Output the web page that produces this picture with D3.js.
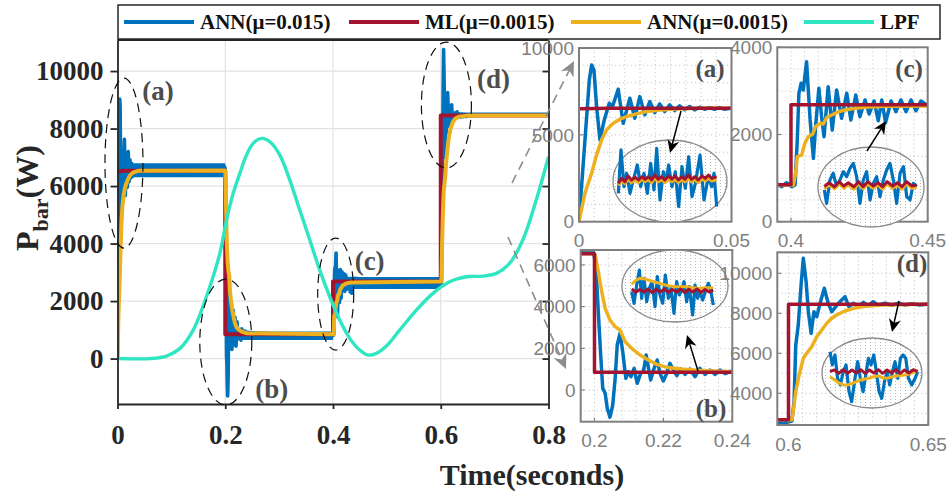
<!DOCTYPE html>
<html><head><meta charset="utf-8">
<script src="https://cdn.jsdelivr.net/npm/d3@7"></script>
<style>
html,body{margin:0;padding:0;background:#fff;}
svg{display:block;}
</style></head>
<body><svg id="chart" width="947" height="493"></svg>
<script>
// ---------- axis limits and ticks ----------
const timeLimits = [0, 0.8];
const powerLimits = [-1580, 11080];
const timeTicks = [0, 0.2, 0.4, 0.6, 0.8];
const powerTicks = [0, 2000, 4000, 6000, 8000, 10000];

const seriesNames = ["ANN(μ=0.015)", "ML(μ=0.0015)", "ANN(μ=0.0015)", "LPF"];
const seriesColors = ["#0072BD", "#A2142F", "#EDB120", "#2EE6C1"];

// ---------- ANN (μ=0.015): [time s, power W] ----------
const annFast = [
  [0,0],[0.00196,4713],[0.00338,8161],[0.00414,9023],[0.0049,8735],[0.00577,6628],[0.00686,4713],
  [0.00828,5862],[0.00991,6819],[0.0110,6628],[0.01285,7624],[0.01449,5670],[0.01667,7107],[0.0183,5957],
  [0.01993,7203],[0.02157,6149],[0.0232,6915],[0.02484,6283],[0.02647,6781],[0.0281,6340],[0.02974,6724],
  [0.03137,6398],[0.033,6667],[0.03464,6437],[0.03627,6628],[0.0379,6437],[0.03954,6590],[0.04118,6475],
  [0.04281,6570],[0.04444,6475],[0.04608,6570],[0.04771,6475],[0.04957,6533],[0.1,6530],
  [0.196,6640],[0.1975,6560],[0.1988,6670],[0.1997,6603],[0.2004,5995],[0.2011,3757],[0.2018,1679],
  [0.2024,80],[0.2031,-160],[0.2037,-879],[0.2045,-1300],[0.2053,-719],[0.206,560],[0.2066,2158],
  [0.2074,2718],[0.2082,1839],[0.2091,560],[0.2098,879],[0.2106,640],[0.2115,1039],[0.2124,320],
  [0.2134,799],[0.2142,879],[0.215,1679],[0.2156,1119],[0.2163,480],[0.2173,1039],[0.2182,1439],
  [0.219,799],[0.22,432],[0.221,799],[0.2219,1279],[0.2229,959],[0.2239,687],[0.225,1007],[0.2263,751],
  [0.2277,1007],[0.2292,640],[0.2306,1039],[0.2321,751],[0.2335,959],[0.235,751],[0.2364,959],
  [0.2379,783],[0.2398,911],[0.3,840],[0.395,865],
  [0.3966,803],[0.3984,895],[0.4003,803],[0.4015,842],[0.4023,1874],[0.4029,2945],[0.4037,3175],
  [0.4045,3021],[0.4057,3670],[0.407,2333],[0.4082,1454],[0.4091,2257],[0.4102,3060],[0.4112,2409],
  [0.4121,1950],[0.4136,3097],[0.4151,2104],[0.4167,3021],[0.4185,2372],[0.4204,2945],[0.4219,2333],
  [0.4237,2906],[0.4252,2409],[0.4271,2792],[0.4286,2471],[0.4304,2769],[0.4319,2317],[0.4332,2792],
  [0.4346,2271],[0.4366,2769],[0.4384,2523],[0.4402,2792],[0.4421,2523],[0.4439,2792],[0.4457,2546],
  [0.4475,2769],[0.45,2661],[0.52,2650],[0.596,2580],
  [0.5981,2500],[0.6012,2615],[0.602,3580],[0.6026,6415],[0.6035,7415],[0.6045,9415],[0.6053,10750],
  [0.6063,9580],[0.6071,8080],[0.6081,7000],[0.6091,8080],[0.6101,7830],[0.6113,8500],[0.6128,9250],
  [0.6142,8500],[0.6155,8080],[0.6169,8330],[0.6184,8580],[0.6202,8830],[0.6216,8330],[0.6232,8500],
  [0.625,8330],[0.6268,8550],[0.6285,8370],[0.6303,8580],[0.6321,8400],[0.6345,8500],[0.6369,8400],
  [0.6393,8500],[0.6417,8415],[0.6441,8480],[0.647,8415],[0.65,8465],[0.8,8470]
];
// switching ripple envelope of ANN (μ=0.015) in steady state: [time, low, high]
const annFastRipple = [
  [[0.025,6310,6790],[0.2,6310,6790]],
  [[0.222,650,940],[0.4,650,940]],
  [[0.43,2420,2840],[0.6,2420,2840]],
  [[0.63,8400,8560],[0.8,8400,8560]]
];

// ---------- ML (μ=0.0015) ----------
const ml = [
  [0,6500],[0.01,6530],[0.2,6530],[0.2,850],[0.4,850],[0.4,2680],[0.6,2680],[0.6,8450],[0.8,8450]
];

// ---------- ANN (μ=0.0015) ----------
const annSlow = [
  [0,0],[0.00196,1648],[0.00414,2797],[0.00577,3850],[0.00741,4713],[0.00904,5287],[0.01122,5670],
  [0.0134,5900],[0.01558,6054],[0.01885,6207],[0.02211,6340],[0.02647,6437],[0.03192,6494],[0.03954,6533],
  [0.1997,6545],[0.2002,6475],[0.2011,5675],[0.2021,4716],[0.2031,3917],[0.2045,3357],[0.206,3038],
  [0.2074,2878],[0.2089,2318],[0.2108,1998],[0.2132,1679],[0.2156,1439],[0.2181,1231],[0.221,1087],
  [0.2249,1007],[0.2297,943],[0.2345,911],[0.24,880],
  [0.4009,842],[0.4017,1110],[0.4023,1491],[0.4039,1530],[0.4051,1798],[0.4063,1950],[0.4079,2005],
  [0.409,2179],[0.4106,2257],[0.4118,2240],[0.4131,2395],[0.4149,2448],[0.4173,2523],[0.4198,2562],
  [0.4234,2601],[0.4283,2631],[0.4344,2650],
  [0.6012,2680],[0.6017,3080],[0.6026,4080],[0.6038,4915],[0.6053,5750],[0.6065,6000],[0.6083,6330],
  [0.6101,6830],[0.6119,7165],[0.6137,7500],[0.6155,7750],[0.6176,7950],[0.6202,8115],[0.6232,8250],
  [0.6274,8350],[0.6333,8415],[0.65,8450],[0.8,8450]
];

// ---------- LPF ----------
const lpf = [
  [0,0],[0.06,0],[0.091,87],[0.116,355],[0.1405,991],[0.165,2150],[0.19,3659],[0.2024,4817],
  [0.2147,5745],[0.2271,6441],[0.2395,7078],[0.2518,7484],[0.2673,7658],[0.2827,7541],[0.3013,7078],
  [0.3198,6208],[0.3383,5165],[0.3569,4122],[0.3754,3078],[0.394,2150],[0.4125,1339],[0.431,702],
  [0.4496,296],[0.465,122],[0.4805,181],[0.499,435],[0.5237,991],[0.5547,1687],[0.5855,2268],
  [0.6164,2671],[0.6474,2845],[0.6782,2869],[0.703,2963],[0.7277,3311],[0.7523,4122],[0.7772,5513],
  [0.8,7019]
];

// ---------- magnified steady-state windows ----------
const zoomA_annFast = [[0.0300,6356],[0.03049,6862],[0.03104,6433],[0.03153,6590],[0.03214,6356],[0.03275,6512],
  [0.03348,6687],[0.03409,6433],[0.0347,6590],[0.03531,6356],[0.03592,6706],[0.03653,6395],[0.03702,6881],
  [0.03763,6278],[0.03824,6608],[0.03873,6492],[0.03921,6687],[0.03982,6433],[0.04043,6608],[0.04104,6200],
  [0.04165,6667],[0.04226,6415],[0.04287,6783],[0.04348,6317],[0.0441,6473],[0.04495,6803],[0.04568,6278],
  [0.04647,6550],[0.04708,6433],[0.04751,6590],[0.048,6200]];
const zoomA_t = [0.0300,0.0306,0.0312,0.0318,0.0324,0.0331,0.0337,0.0343,0.0349,0.0355,0.0361,0.0367,0.0373,
  0.0379,0.0385,0.0392,0.0398,0.0404,0.0410,0.0416,0.0422,0.0428,0.0434,0.0440,0.0446,0.0453,0.0459,0.0465,0.0471,0.0480];
const zoomA_ml = [6473,6531,6492,6558,6512,6543,6512,6550,6520,6550,6512,6570,6520,6550,6512,6558,6520,6558,
  6512,6550,6520,6570,6520,6550,6512,6558,6531,6570,6531,6550];
const zoomA_annSlow = [6450,6500,6470,6520,6480,6510,6480,6520,6490,6515,6480,6530,6490,6515,6480,6520,6490,
  6520,6480,6515,6490,6530,6490,6515,6480,6520,6500,6530,6500,6515];

const zoomB_annFast = [[0.2250,910],[0.22529,766],[0.22561,993],[0.22594,1179],[0.22622,828],[0.22651,1076],
  [0.22684,786],[0.22716,952],[0.22749,1034],[0.22786,724],[0.22814,1096],[0.22847,869],[0.2288,766],
  [0.22912,1117],[0.22949,828],[0.22982,952],[0.23018,642],[0.23051,1034],[0.23084,869],[0.23112,931],
  [0.23141,1034],[0.23173,786],[0.23206,972],[0.23247,621],[0.23276,993],[0.23308,828],[0.23337,910],
  [0.2337,807],[0.23402,910],[0.23439,1014],[0.23469,931],[0.235,745]];
const zoomB_t = [0.2250,0.2255,0.2260,0.2265,0.2270,0.2275,0.2280,0.2285,0.2290,0.2295,0.2300,0.2305,0.2310,
  0.2315,0.2320,0.2325,0.2330,0.2335,0.2340,0.2345,0.2350];
const zoomB_ml = [943,902,938,905,943,900,940,905,943,902,938,905,943,900,940,905,943,902,938,905,930];
const zoomB_annSlow = [1002,1050,1076,1070,1055,1040,1026,1010,995,984,978,972,975,972,968,960,955,952,958,960,955];

const zoomC_annFast = [[0.4360,2593],[0.43625,2466],[0.43661,2688],[0.43697,2752],[0.43734,2624],[0.4377,2688],
  [0.43806,2767],[0.43842,2720],[0.43878,2799],[0.43914,2847],[0.4395,2720],[0.43986,2466],[0.44022,2688],
  [0.44058,2767],[0.44095,2498],[0.44131,2657],[0.44167,2720],[0.44203,2529],[0.44239,2688],[0.44275,2783],
  [0.44311,2847],[0.44347,2688],[0.44383,2466],[0.4442,2752],[0.44456,2815],[0.44492,2529],[0.44528,2498],
  [0.44564,2657],[0.446,2624]];
const zoomC_t = [0.4360,0.4365,0.4371,0.4376,0.4381,0.4386,0.4392,0.4397,0.4402,0.4407,0.4413,0.4418,0.4423,
  0.4428,0.4434,0.4439,0.4444,0.4449,0.4455,0.4460];
const zoomC_ml = [2624,2662,2624,2672,2631,2662,2624,2672,2624,2672,2631,2662,2624,2672,2631,2662,2624,2672,2631,2640];
const zoomC_annSlow = [2600,2640,2605,2650,2610,2640,2600,2650,2605,2648,2610,2640,2600,2650,2608,2640,2600,2650,2610,2618];

const zoomD_annFast = [[0.636,8700],[0.63627,8594],[0.63657,8674],[0.63687,8487],[0.63718,8434],[0.63752,8540],
  [0.63783,8594],[0.63817,8380],[0.63847,8300],[0.63885,8487],[0.63916,8620],[0.63946,8487],[0.63977,8380],
  [0.64008,8514],[0.64038,8647],[0.64068,8594],[0.64099,8674],[0.64129,8540],[0.6416,8380],[0.6419,8327],
  [0.64221,8460],[0.64251,8540],[0.64281,8434],[0.64312,8540],[0.64342,8620],[0.64373,8487],[0.64403,8647],
  [0.64433,8674],[0.64464,8647],[0.64494,8487],[0.64532,8434],[0.6457,8487],[0.646,8540]];
const zoomD_t = [0.6360,0.6365,0.6370,0.6375,0.6380,0.6385,0.6390,0.6395,0.6400,0.6405,0.6410,0.6415,0.6420,
  0.6425,0.6430,0.6435,0.6440,0.6445,0.6450,0.6455,0.6460];
const zoomD_ml = [8540,8554,8527,8556,8527,8554,8530,8556,8527,8554,8530,8556,8527,8554,8530,8556,8527,8554,8530,8556,8540];
const zoomD_annSlow = [8500,8475,8450,8434,8434,8445,8460,8474,8482,8490,8500,8506,8492,8487,8498,8506,8510,8514,8522,8535,8546];

// ---------- drawing ----------
const SERIF = "'Liberation Serif','Times New Roman',serif";
const SANS = "'Liberation Sans',Arial,sans-serif";
const AXIS = "#262626";
const svg = d3.select("#chart");
const defs = svg.append("defs");

const box = {left: 117.5, right: 548.5, top: 40, bottom: 404};
const x = d3.scaleLinear(timeLimits, [box.left, box.right]);
const y = d3.scaleLinear(powerLimits, [box.bottom, box.top]);

defs.append("clipPath").attr("id", "mainClip").append("rect")
  .attr("x", box.left).attr("y", box.top)
  .attr("width", box.right - box.left).attr("height", box.bottom - box.top);

// dotted background of the magnified windows
const dots = defs.append("pattern").attr("id", "zoomDots")
  .attr("width", 5).attr("height", 3).attr("patternUnits", "userSpaceOnUse");
dots.append("rect").attr("width", 5).attr("height", 3).attr("fill", "#fff");
dots.append("rect").attr("width", 1).attr("height", 1).attr("fill", "#b9b9b9");

// grid
const grid = svg.append("g");
grid.selectAll(".gx").data(timeTicks.slice(1, -1)).join("line")
  .attr("x1", d => x(d)).attr("x2", d => x(d)).attr("y1", box.top).attr("y2", box.bottom)
  .attr("stroke", "#e3e3e3").attr("stroke-width", 1.2);
grid.selectAll(".gy").data(powerTicks).join("line")
  .attr("x1", box.left).attr("x2", box.right).attr("y1", d => y(d)).attr("y2", d => y(d))
  .attr("stroke", "#e3e3e3").attr("stroke-width", 1.2);

// series
const plot = svg.append("g").attr("clip-path", "url(#mainClip)");
const line = d3.line().x(d => x(d[0])).y(d => y(d[1]));
const ripple = d3.area().x(d => x(d[0])).y0(d => y(d[1])).y1(d => y(d[2]));
annFastRipple.forEach(seg => plot.append("path").attr("d", ripple(seg)).attr("fill", seriesColors[0]));
plot.append("path").attr("d", line(annFast)).attr("fill", "none").attr("stroke", seriesColors[0])
  .attr("stroke-width", 3.6).attr("stroke-linejoin", "round");
plot.append("path").attr("d", line(ml)).attr("fill", "none").attr("stroke", seriesColors[1])
  .attr("stroke-width", 4).attr("stroke-linejoin", "round");
plot.append("path").attr("d", line(annSlow)).attr("fill", "none").attr("stroke", seriesColors[2])
  .attr("stroke-width", 4).attr("stroke-linejoin", "round");
plot.append("path").attr("d", d3.line().x(d => x(d[0])).y(d => y(d[1])).curve(d3.curveCatmullRom.alpha(0.5))(lpf))
  .attr("fill", "none").attr("stroke", seriesColors[3]).attr("stroke-width", 3.4);

// axes
const axL = svg.append("g").attr("transform", `translate(${box.left},0)`)
  .call(d3.axisLeft(y).tickValues(powerTicks).tickSize(7).tickSizeOuter(0).tickPadding(7).tickFormat(d3.format("d")));
const axB = svg.append("g").attr("transform", `translate(0,${box.bottom})`)
  .call(d3.axisBottom(x).tickValues(timeTicks).tickSize(5).tickSizeOuter(0).tickPadding(16).tickFormat(d => String(d)));
const axR = svg.append("g").attr("transform", `translate(${box.right},0)`)
  .call(d3.axisLeft(y).tickValues(powerTicks).tickSize(6).tickSizeOuter(0).tickFormat(""));
[axL, axB, axR].forEach(a => {
  a.selectAll("path,line").attr("stroke", AXIS).attr("stroke-width", 1.8);
  a.selectAll("text").attr("fill", AXIS).style("font-family", SERIF).style("font-weight", "bold").style("font-size", "27px");
});
svg.append("line").attr("x1", box.left).attr("x2", box.right).attr("y1", box.top).attr("y2", box.top)
  .attr("stroke", AXIS).attr("stroke-width", 1.8);

// axis titles
const yl = svg.append("text").attr("transform", "translate(38,198) rotate(-90)")
  .attr("text-anchor", "middle").attr("fill", AXIS)
  .style("font-family", SERIF).style("font-weight", "bold").style("font-size", "32px");
yl.append("tspan").text("P");
yl.append("tspan").attr("dy", 10).style("font-size", "22px").text("bar");
yl.append("tspan").attr("dy", -10).text("(W)");
svg.append("text").attr("x", 532).attr("y", 485).attr("text-anchor", "middle").attr("fill", AXIS)
  .style("font-family", SERIF).style("font-weight", "bold").style("font-size", "30px").text("Time(seconds)");

// highlighted transients
const highlights = [
  {tag: "(a)", c: [0.012, 6800], r: [19, 85], label: [0.075, 9320]},
  {tag: "(b)", c: [0.201, 574], r: [26, 63], label: [0.2865, -1026]},
  {tag: "(c)", c: [0.405, 2243], r: [18, 56], label: [0.468, 3426]},
  {tag: "(d)", c: [0.6105, 8817], r: [25, 63], label: [0.698, 9756]}
];
highlights.forEach(h => {
  svg.append("ellipse").attr("cx", x(h.c[0])).attr("cy", y(h.c[1])).attr("rx", h.r[0]).attr("ry", h.r[1])
    .attr("fill", "none").attr("stroke", "#111").attr("stroke-width", 1.2).attr("stroke-dasharray", "9,6");
  svg.append("text").attr("x", x(h.label[0])).attr("y", y(h.label[1])).attr("dy", "0.35em")
    .attr("text-anchor", "middle").attr("fill", "#4d4d4d")
    .style("font-family", SERIF).style("font-weight", "bold").style("font-size", "27px").text(h.tag);
});

function arrowHead(g, x1, y1, x2, y2, len, half, color) {
  const a = Math.atan2(y2 - y1, x2 - x1), c = Math.cos(a), s = Math.sin(a);
  const bx = x2 - len * c, by = y2 - len * s;
  const nx = bx + len * 0.3 * c, ny = by + len * 0.3 * s;
  g.append("path").attr("d", `M${x2},${y2}L${bx - s * half},${by + c * half}L${nx},${ny}L${bx + s * half},${by - c * half}Z`)
    .attr("fill", color);
}

// ---------- inset panels ----------
const insets = [
  {tag: "(a)", box: [579, 48, 731.5, 221.7], tDom: [0, 0.05], pDom: [0, 10000], tTicks: [0, 0.05],
   pTicks: [0, 5000, 10000], tMinor: 0.005, pMinor: 1000, tagPos: [710, 68],
   zoom: {c: [670, 181], r: [57, 41], xr: [618.3, 716.7], yr: [206.7, 146.7], tDom: [0.030, 0.048], pDom: [6200, 6900],
          arrow: [681, 111, 670, 153], fast: zoomA_annFast, t: zoomA_t, ml: zoomA_ml, slow: zoomA_annSlow}},
  {tag: "(b)", box: [580.7, 250, 732.3, 421.7], tDom: [0.196, 0.24], pDom: [-1520, 6715], tTicks: [0.2, 0.22, 0.24],
   pTicks: [0, 2000, 4000, 6000], tMinor: 0.004, pMinor: 1000, tagPos: [711, 408],
   zoom: {c: [675, 286], r: [53, 36], xr: [631.7, 713.3], yr: [316.7, 268.3], tDom: [0.225, 0.235], pDom: [600, 1200],
          arrow: [698, 371, 687, 335], fast: zoomB_annFast, t: zoomB_t, ml: zoomB_ml, slow: zoomB_annSlow}},
  {tag: "(c)", box: [777.3, 47.3, 927.7, 221.7], tDom: [0.395, 0.45], pDom: [0, 4000], tTicks: [0.4, 0.45],
   pTicks: [0, 2000, 4000], tMinor: 0.005, pMinor: 500, tagPos: [909, 68],
   zoom: {c: [871, 187], r: [53, 40], xr: [824.3, 916.7], yr: [205, 163], tDom: [0.436, 0.446], pDom: [2450, 2850],
          arrow: [867, 151, 886, 121], fast: zoomC_annFast, t: zoomC_t, ml: zoomC_ml, slow: zoomC_annSlow}},
  {tag: "(d)", box: [777.3, 252.3, 928.3, 425], tDom: [0.596, 0.65], pDom: [2415, 11050], tTicks: [0.6, 0.65],
   pTicks: [4000, 6000, 8000, 10000], tMinor: 0.005, pMinor: 1000, tagPos: [912, 263],
   zoom: {c: [872, 373], r: [50, 35], xr: [830, 917.7], yr: [401.7, 351.7], tDom: [0.636, 0.646], pDom: [8300, 8700],
          arrow: [899, 301, 892, 332], fast: zoomD_annFast, t: zoomD_t, ml: zoomD_ml, slow: zoomD_annSlow}}
];

insets.forEach((cfg, i) => {
  const [x0, y0, x1, y1] = cfg.box;
  const ix = d3.scaleLinear(cfg.tDom, [x0, x1]);
  const iy = d3.scaleLinear(cfg.pDom, [y1, y0]);
  const g = svg.append("g");
  const id = "insetClip" + i;
  defs.append("clipPath").attr("id", id).append("rect").attr("x", x0).attr("y", y0).attr("width", x1 - x0).attr("height", y1 - y0);
  g.append("rect").attr("x", x0).attr("y", y0).attr("width", x1 - x0).attr("height", y1 - y0).attr("fill", "#fff");

  const tMinor = d3.range(Math.ceil(cfg.tDom[0] / cfg.tMinor - 1e-6) * cfg.tMinor, cfg.tDom[1] - 1e-6, cfg.tMinor);
  const pMinor = d3.range(Math.ceil(cfg.pDom[0] / cfg.pMinor) * cfg.pMinor, cfg.pDom[1], cfg.pMinor);
  g.selectAll(".vm").data(tMinor).join("line").attr("x1", d => ix(d)).attr("x2", d => ix(d)).attr("y1", y0).attr("y2", y1)
    .attr("stroke", "#c6c6c6").attr("stroke-width", 1).attr("stroke-dasharray", "1.2,2.8");
  g.selectAll(".hm").data(pMinor).join("line").attr("x1", x0).attr("x2", x1).attr("y1", d => iy(d)).attr("y2", d => iy(d))
    .attr("stroke", "#c6c6c6").attr("stroke-width", 1).attr("stroke-dasharray", "1.2,2.8");

  const il = d3.line().x(d => ix(d[0])).y(d => iy(d[1]));
  const lines = g.append("g").attr("clip-path", `url(#${id})`);
  [[annFast, 0], [annSlow, 2], [ml, 1]].forEach(([data, k]) => {
    lines.append("path").attr("d", il(data)).attr("fill", "none").attr("stroke", seriesColors[k])
      .attr("stroke-width", 3.5).attr("stroke-linejoin", "round");
  });

  g.append("rect").attr("x", x0).attr("y", y0).attr("width", x1 - x0).attr("height", y1 - y0)
    .attr("fill", "none").attr("stroke", "#7f7f7f").attr("stroke-width", 2);
  g.selectAll(".tx").data(cfg.tTicks).join("line").attr("x1", d => ix(d)).attr("x2", d => ix(d))
    .attr("y1", y1).attr("y2", y1 - 4).attr("stroke", "#7f7f7f").attr("stroke-width", 1.2);
  g.selectAll(".ty").data(cfg.pTicks).join("line").attr("x1", x0).attr("x2", x0 + 4)
    .attr("y1", d => iy(d)).attr("y2", d => iy(d)).attr("stroke", "#7f7f7f").attr("stroke-width", 1.2);
  g.selectAll(".lx").data(cfg.tTicks).join("text").attr("x", d => ix(d)).attr("y", y1 + 19).attr("dy", "0.35em")
    .attr("text-anchor", "middle").attr("fill", "#808080").style("font-family", SANS).style("font-size", "19px")
    .text(d => String(d));
  g.selectAll(".ly").data(cfg.pTicks).join("text").attr("x", x0 - 5).attr("y", d => iy(d)).attr("dy", "0.35em")
    .attr("text-anchor", "end").attr("fill", "#808080").style("font-family", SANS).style("font-size", "19px")
    .text(d => String(d));
  g.append("text").attr("x", cfg.tagPos[0]).attr("y", cfg.tagPos[1]).attr("dy", "0.35em").attr("text-anchor", "middle")
    .attr("fill", "#4d4d4d").style("font-family", SERIF).style("font-weight", "bold").style("font-size", "25px").text(cfg.tag);

  // magnified window
  const z = cfg.zoom;
  g.append("ellipse").attr("cx", z.c[0]).attr("cy", z.c[1]).attr("rx", z.r[0]).attr("ry", z.r[1])
    .attr("fill", "url(#zoomDots)").attr("stroke", "#8a8a8a").attr("stroke-width", 1.3);
  const zx = d3.scaleLinear(z.tDom, z.xr), zy = d3.scaleLinear(z.pDom, z.yr);
  const zl = d3.line().x(d => zx(d[0])).y(d => zy(d[1]));
  g.append("path").attr("d", zl(z.fast)).attr("fill", "none").attr("stroke", seriesColors[0])
    .attr("stroke-width", 3.2).attr("stroke-linejoin", "round");
  g.append("path").attr("d", zl(z.t.map((t, j) => [t, z.slow[j]]))).attr("fill", "none").attr("stroke", seriesColors[2])
    .attr("stroke-width", 3).attr("stroke-linejoin", "round");
  g.append("path").attr("d", zl(z.t.map((t, j) => [t, z.ml[j]]))).attr("fill", "none").attr("stroke", seriesColors[1])
    .attr("stroke-width", 3).attr("stroke-linejoin", "round");
  const [ax1, ay1, ax2, ay2] = z.arrow;
  const ang = Math.atan2(ay2 - ay1, ax2 - ax1);
  g.append("line").attr("x1", ax1).attr("y1", ay1).attr("x2", ax2 - 9 * Math.cos(ang)).attr("y2", ay2 - 9 * Math.sin(ang))
    .attr("stroke", "#000").attr("stroke-width", 1.5);
  arrowHead(g, ax1, ay1, ax2, ay2, 13, 6, "#000");
});

// callout arrows from the overview to the detail panels
const callouts = [[512, 183, 574, 61], [508, 237, 566, 369]];
callouts.forEach(([x1, y1, x2, y2]) => {
  const a = Math.atan2(y2 - y1, x2 - x1);
  svg.append("line").attr("x1", x1).attr("y1", y1).attr("x2", x2 - 10 * Math.cos(a)).attr("y2", y2 - 10 * Math.sin(a))
    .attr("stroke", "#8c8c8c").attr("stroke-width", 1.6).attr("stroke-dasharray", "9,6");
  arrowHead(svg, x1, y1, x2, y2, 15, 7, "#8c8c8c");
});

// legend
const lg = svg.append("g");
lg.append("rect").attr("x", 118).attr("y", 5).attr("width", 822).attr("height", 34)
  .attr("fill", "#fff").attr("stroke", AXIS).attr("stroke-width", 1.5);
const legendX = [124, 349, 571, 804];
seriesNames.forEach((name, k) => {
  lg.append("line").attr("x1", legendX[k]).attr("x2", legendX[k] + 70).attr("y1", 22).attr("y2", 22)
    .attr("stroke", seriesColors[k]).attr("stroke-width", 4);
  lg.append("text").attr("x", legendX[k] + 76).attr("y", 22).attr("dy", "0.35em").attr("fill", "#111")
    .style("font-family", SERIF).style("font-weight", "bold").style("font-size", "21px").text(name);
});
</script></body></html>
